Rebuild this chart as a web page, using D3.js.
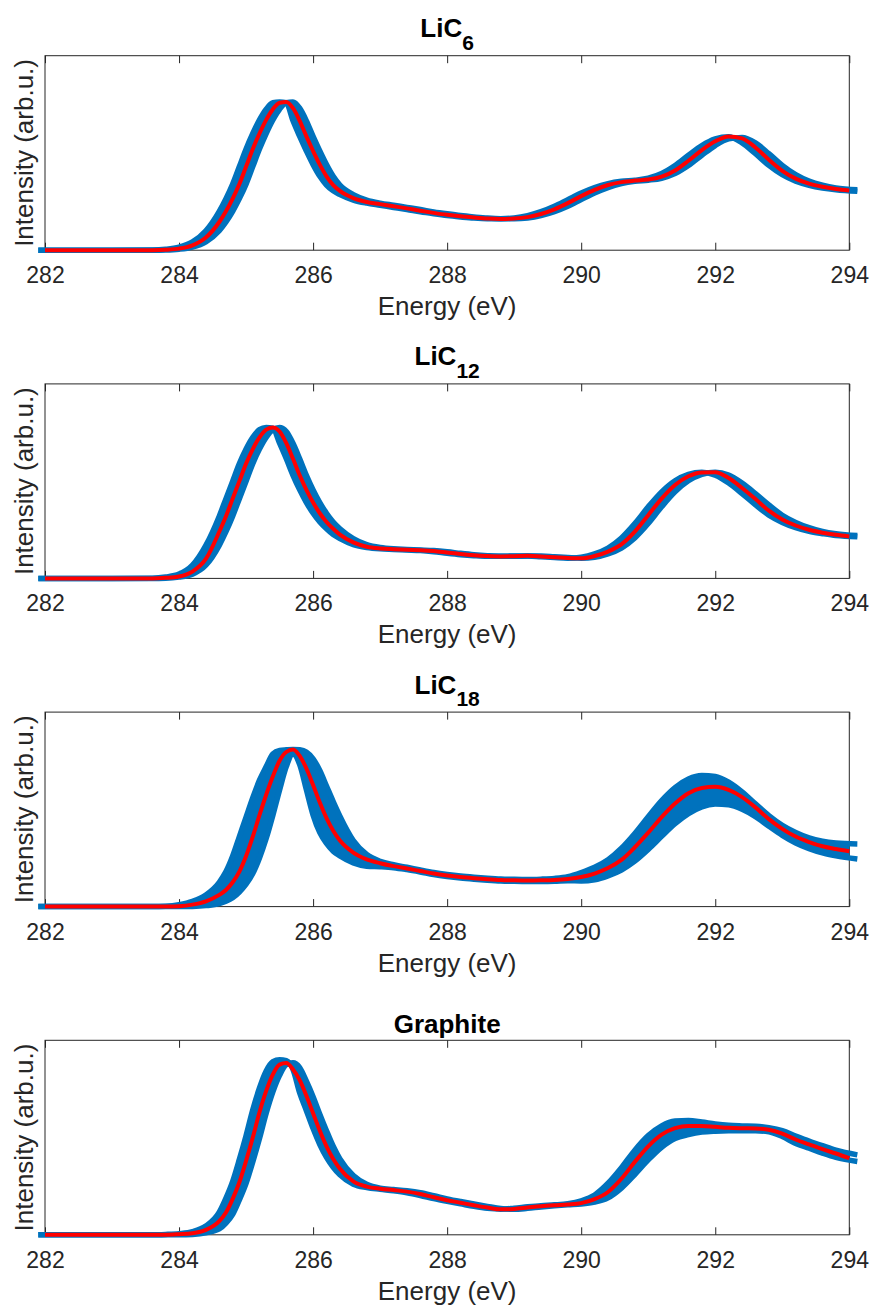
<!DOCTYPE html>
<html>
<head>
<meta charset="utf-8">
<script src="https://cdn.jsdelivr.net/npm/d3@7"></script>
<style>
  html, body { margin: 0; padding: 0; background: #fff; }
  svg { display: block; font-family: "Liberation Sans", Arial, Helvetica, sans-serif; }
</style>
</head>
<body>
<div id="chart"></div>
<script>
// energy grid (eV), finer around the pi* peak
const energy = [282, 283, 283.6, 283.8, 284.0, 284.2, 284.4,
  284.6, 284.7, 284.8, 284.9, 285.0, 285.1, 285.2, 285.3, 285.4, 285.5, 285.6, 285.7, 285.8, 285.9, 286.0, 286.1, 286.2, 286.3, 286.4,
  286.6, 286.8, 287.0, 287.2, 287.4, 287.6, 287.8, 288.0, 288.2, 288.4, 288.6, 288.8, 289.0, 289.2, 289.4, 289.6, 289.8,
  290.0, 290.2, 290.4, 290.6, 290.8, 291.0, 291.2, 291.4, 291.6, 291.8, 292.0, 292.2, 292.4, 292.6, 292.8,
  293.0, 293.2, 293.4, 293.6, 293.8, 294.0];
// the individual spectra run a little past the axis limits
const bandEnergy = [281.9, 283, 283.6, 283.8, 284.0, 284.2, 284.4,
  284.6, 284.7, 284.8, 284.9, 285.0, 285.1, 285.2, 285.3, 285.4, 285.5, 285.6, 285.7, 285.8, 285.9, 286.0, 286.1, 286.2, 286.3, 286.4,
  286.6, 286.8, 287.0, 287.2, 287.4, 287.6, 287.8, 288.0, 288.2, 288.4, 288.6, 288.8, 289.0, 289.2, 289.4, 289.6, 289.8,
  290.0, 290.2, 290.4, 290.6, 290.8, 291.0, 291.2, 291.4, 291.6, 291.8, 292.0, 292.2, 292.4, 292.6, 292.8,
  293.0, 293.2, 293.4, 293.6, 293.8, 294.12];

const xTicks = [282, 284, 286, 288, 290, 292, 294];
const xLabel = 'Energy (eV)';
const yLabel = 'Intensity (arb.u.)';

// LiC6
const lic6Mean = [0, 0, 0, 0.2, 0.8, 2.5, 6.5,
  14.5, 20, 26.5, 34, 43, 52, 60, 67, 72.5, 75.8, 76.2, 73, 66.5, 58.5, 51, 44, 38, 33.5, 30.5,
  26.8, 24.8, 23.7, 22.6, 21.5, 20.3, 19.2, 18.2, 17.4, 16.8, 16.3, 16.1, 16.3, 17, 18.6, 21, 24.2,
  27.8, 31, 33.5, 35, 35.8, 36.3, 37.8, 41, 46, 51.5, 56, 58.5, 57.5, 52.8, 46.5, 40.8, 36.8, 34.2, 32.6, 31.5, 30.7];
const lic6SpecA = [0, 0, 0.1, 0.5, 1.6, 4.3, 10,
  20, 26.5, 34, 43, 52, 60, 67, 72.5, 75.8, 76.2, 75.8, 66.5, 58.5, 51, 44, 38, 33.5, 30.5, 28.6,
  25.8, 24.2, 23.1, 22.0, 20.9, 19.7, 18.7, 17.8, 17.1, 16.5, 16.2, 16.2, 16.6, 17.8, 19.8, 22.6, 26,
  29.4, 32.2, 34.2, 35.4, 36, 37, 39.4, 43.5, 48.8, 53.8, 57.2, 58.3, 55.2, 49.6, 43.6, 38.8, 35.5, 33.4, 32, 31.1, 30.3];
const lic6SpecB = [0, 0, 0, 0.1, 0.5, 1.6, 4.3,
  10, 14.5, 20, 26.5, 34, 43, 52, 60, 67, 72.5, 75.8, 76.2, 73, 66.5, 58.5, 51, 44, 38, 33.5,
  28.6, 25.8, 24.2, 23.1, 22.0, 20.9, 19.7, 18.7, 17.8, 17.1, 16.5, 16.2, 16.2, 16.6, 17.8, 19.8, 22.6,
  26, 29.4, 32.2, 34.2, 35.4, 36, 37, 39.4, 43.5, 48.8, 53.8, 57.2, 58, 55.2, 49.6, 43.6, 38.8, 35.5, 33.4, 32, 31.1];

// LiC12
const lic12Mean = [0, 0, 0, 0.3, 1.0, 3.5, 10,
  24, 32, 41, 50, 59, 66.5, 72.5, 76.5, 77.6, 75.5, 69.5, 61.5, 53, 45.5, 39, 33.5, 29, 25.5, 22.5,
  18.5, 16.3, 15.4, 15, 14.7, 14.5, 14.1, 13.3, 12.5, 11.9, 11.5, 11.3, 11.4, 11.6, 11.3, 10.9, 10.5,
  10.3, 11.5, 13.8, 17.5, 24, 32.5, 41, 48, 52.5, 54.5, 54.6, 51.6, 46.5, 40.8, 34.8, 30.3, 27.2, 25, 23.5, 22.4, 21.6];
const lic12SpecA = [0, 0, 0.1, 0.7, 2.2, 6.8, 17,
  32, 41, 50, 59, 66.5, 72.5, 76.5, 77.6, 77.2, 69.5, 61.5, 53, 45.5, 39, 33.5, 29, 25.5, 22.5, 20.5,
  17.4, 15.9, 15.2, 14.9, 14.6, 14.3, 13.7, 12.9, 12.2, 11.7, 11.4, 11.4, 11.5, 11.5, 11.1, 10.7, 10.4,
  10.9, 12.6, 15.6, 20.8, 28.2, 36.8, 44.5, 50.2, 53.5, 54.6, 53.1, 49, 43.6, 37.8, 32.5, 28.8, 26.1, 24.2, 23, 22, 21.4];
const lic12SpecB = [0, 0, 0, 0.1, 0.7, 2.2, 6.8,
  17, 24, 32, 41, 50, 59, 66.5, 72.5, 76.5, 77.6, 75.5, 69.5, 61.5, 53, 45.5, 39, 33.5, 29, 25.5,
  20.5, 17.4, 15.9, 15.2, 14.9, 14.6, 14.3, 13.7, 12.9, 12.2, 11.7, 11.4, 11.4, 11.5, 11.5, 11.1, 10.7,
  10.4, 10.9, 12.6, 15.6, 20.8, 28.2, 36.8, 44.5, 50.2, 53.5, 54.6, 53.1, 49, 43.6, 37.8, 32.5, 28.8, 26.1, 24.2, 23, 22];

// LiC18
const lic18Mean = [0, 0, 0, 0, 0.2, 1, 2.7,
  6, 8.5, 12.5, 18, 26, 36, 47, 57.5, 67, 75, 79.5, 80.8, 77.5, 71, 62.5, 53.5, 45.5, 39, 34,
  27.8, 24.3, 22.3, 20.8, 19.6, 18.3, 17, 16, 15.2, 14.6, 14.1, 13.7, 13.5, 13.4, 13.5, 13.7, 14.2,
  15.2, 17, 19.8, 24, 30.5, 38, 46, 53, 58.3, 61, 61.6, 60, 56.3, 51, 45, 40, 36, 33.2, 31, 29.6, 28.5];
const lic18SpecA = [0, 0, 0, 0.2, 1, 2.7, 6,
  12.5, 18, 26, 36, 46, 56, 65, 72, 78.5, 80.3, 80.6, 80.8, 80.6, 79.5, 76, 70, 62, 54, 46.5,
  34, 26.8, 23.3, 21.5, 20.2, 18.8, 17.5, 16.5, 15.7, 15.1, 14.6, 14.2, 14, 13.9, 14.1, 14.5, 15.4,
  17.5, 20.2, 24.1, 30, 37.6, 46.2, 54.5, 61.2, 65.6, 67.4, 66.9, 64, 59, 52.8, 46.8, 41.8, 38.1, 35.3, 33.6, 32.7, 32.2];
const lic18SpecB = [0, 0, 0, 0, 0, 0.1, 0.5,
  1.5, 2.7, 4.5, 7.5, 11.5, 17, 25, 35, 47, 60, 72, 78.5, 73, 60, 47, 38, 32.5, 28.5, 26,
  22.5, 20.8, 20.5, 20, 19, 17.8, 16.5, 15.5, 14.7, 14.1, 13.6, 13.2, 13, 12.9, 12.9, 13, 13.3,
  13.2, 13.8, 15.8, 18.8, 23.4, 29.4, 36.1, 42.6, 47.8, 51.3, 52.7, 52.3, 50, 46.2, 41.3, 36.6, 32.7, 29.8, 27.6, 26.1, 24.5];

// Graphite
const graphiteMean = [0, 0, 0, 0, 0.3, 0.8, 2.5,
  7, 11.5, 18.5, 27, 38, 50, 63, 74, 82.5, 87.5, 88.3, 85, 79.5, 71.5, 62.5, 53.5, 45.5, 39, 34,
  27.5, 24.8, 23.7, 23, 22.2, 21, 19.3, 17.8, 16.5, 15.2, 14, 13.1, 13.3, 14, 14.7, 15.2, 15.6,
  16.3, 18.3, 22, 28.8, 37.5, 45.5, 51.5, 54.8, 56, 56, 55.5, 55, 54.8, 54.7, 54, 52, 49, 46.5, 44, 41.8, 39.4];
const graphiteSpecA = [0, 0, 0, 0.2, 0.6, 1.6, 4.5,
  11.7, 18.9, 27.5, 38.8, 51, 64.3, 75.5, 84.2, 89, 90, 89.5, 85, 72.9, 63.8, 54.6, 46.4, 39.8, 34.7, 30.8,
  26, 24.3, 23.4, 22.6, 21.6, 20.2, 18.6, 17.2, 15.9, 14.6, 13.6, 13.2, 13.7, 14.4, 15, 15.4, 16,
  17.5, 20.5, 26.5, 34.5, 43.5, 51, 56, 58.5, 58.8, 58, 57, 56.3, 56, 55.8, 55, 53.5, 50.8, 48.2, 45.8, 43.5, 41.1];
const graphiteSpecB = [0, 0, 0, 0, 0, 0.2, 1,
  3, 6, 10.5, 18, 26.5, 37.5, 49.5, 62.5, 73.5, 82, 87.5, 88.5, 86, 79, 71, 62, 53.5, 45.5, 39,
  30.5, 26, 24, 23.3, 22.6, 21.6, 20.1, 18.5, 17.1, 15.8, 14.6, 13.5, 13.1, 13.6, 14.3, 14.9, 15.4,
  15.8, 16.8, 19, 24, 31, 38.5, 45, 49.5, 51.5, 52.8, 53.3, 53.5, 53.5, 53.5, 53, 50.5, 47, 44.5, 42, 39.8, 37.7];

const panels = [
  { name: 'LiC', sub: '6', mean: lic6Mean, specA: lic6SpecA, specB: lic6SpecB },
  { name: 'LiC', sub: '12', mean: lic12Mean, specA: lic12SpecA, specB: lic12SpecB },
  { name: 'LiC', sub: '18', mean: lic18Mean, specA: lic18SpecA, specB: lic18SpecB },
  { name: 'Graphite', sub: '', mean: graphiteMean, specA: graphiteSpecA, specB: graphiteSpecB }
];

const width = 874, height = 1308;
const left = 45, right = 849.3;
const plotH = 194.5;
const firstTop = 55.7, step = 328.2;
const axisColor = '#262626';
const blue = '#0072bd', red = '#ff0000';

const svg = d3.select('#chart').append('svg')
  .attr('width', width)
  .attr('height', height);

svg.append('rect').attr('width', width).attr('height', height).attr('fill', '#fff');

const x = d3.scaleLinear().domain([282, 294]).range([left, right]);
const idx = d3.range(energy.length);

panels.forEach((p, k) => {
  const top = firstTop + k * step;
  const bottom = top + plotH;
  const y = d3.scaleLinear().domain([0, 100]).range([bottom, top]);
  const g = svg.append('g');

  // clip for the filled band
  const clipId = 'clip' + k;
  svg.append('clipPath').attr('id', clipId)
    .append('rect')
    .attr('x', left).attr('y', top)
    .attr('width', right - left).attr('height', plotH);

  // axes (drawn below the data, like matlab's default layer)
  const bottomAxis = g.append('g')
    .attr('transform', `translate(0,${bottom})`)
    .call(d3.axisBottom(x).tickValues(xTicks).tickSizeInner(-7.5).tickSizeOuter(0)
      .tickPadding(16.6).tickFormat(d3.format('d')));
  bottomAxis.select('.domain').remove();
  bottomAxis.attr('font-family', null).attr('font-size', null);
  bottomAxis.selectAll('.tick line').attr('stroke', axisColor);
  bottomAxis.selectAll('.tick text')
    .attr('fill', axisColor)
    .style('font-size', '23px');

  const topAxis = g.append('g')
    .attr('transform', `translate(0,${top})`)
    .call(d3.axisTop(x).tickValues(xTicks).tickSizeInner(-7.5).tickSizeOuter(0).tickFormat(''));
  topAxis.select('.domain').remove();
  topAxis.selectAll('.tick line').attr('stroke', axisColor);

  g.append('rect')
    .attr('x', left).attr('y', top)
    .attr('width', right - left).attr('height', plotH)
    .attr('fill', 'none')
    .attr('stroke', axisColor)
    .attr('stroke-width', 1);

  // blue band: region between the two extreme spectra
  const band = d3.area()
    .x(i => x(bandEnergy[i]))
    .y0(i => y(Math.min(p.specA[i], p.specB[i])))
    .y1(i => y(Math.max(p.specA[i], p.specB[i])))
    .curve(d3.curveMonotoneX);

  g.append('path')
    .datum(idx)
    .attr('clip-path', `url(#${clipId})`)
    .attr('d', band)
    .attr('fill', blue);

  [p.specA, p.specB].forEach(spec => {
    const line = d3.line()
      .x(i => x(bandEnergy[i]))
      .y(i => y(spec[i]))
      .curve(d3.curveMonotoneX);
    g.append('path')
      .datum(idx)
      .attr('d', line)
      .attr('fill', 'none')
      .attr('stroke', blue)
      .attr('stroke-width', 5.5)
      .attr('stroke-linejoin', 'round');
  });

  // mean spectrum
  const meanLine = d3.line()
    .x(i => x(energy[i]))
    .y(i => y(p.mean[i]))
    .curve(d3.curveMonotoneX);
  g.append('path')
    .datum(idx)
    .attr('d', meanLine)
    .attr('fill', 'none')
    .attr('stroke', red)
    .attr('stroke-width', 4)
    .attr('stroke-linejoin', 'round');

  // labels
  g.append('text')
    .attr('x', (left + right) / 2)
    .attr('y', bottom + 65)
    .attr('text-anchor', 'middle')
    .attr('fill', axisColor)
    .style('font-size', '26px')
    .text(xLabel);

  g.append('text')
    .attr('transform', `translate(32.5,${top + plotH / 2}) rotate(-90)`)
    .attr('text-anchor', 'middle')
    .attr('fill', axisColor)
    .style('font-size', '26px')
    .text(yLabel);

  // title with subscript
  const title = g.append('text')
    .attr('x', (left + right) / 2)
    .attr('y', p.sub ? top - 18.5 : top - 7.6)
    .attr('text-anchor', 'middle')
    .attr('fill', '#000')
    .style('font-size', '26px')
    .style('font-weight', 'bold');
  title.append('tspan').text(p.name);
  if (p.sub) {
    title.append('tspan')
      .attr('dy', 12.5)
      .style('font-size', '21px')
      .text(p.sub);
  }
});
</script>
</body>
</html>
